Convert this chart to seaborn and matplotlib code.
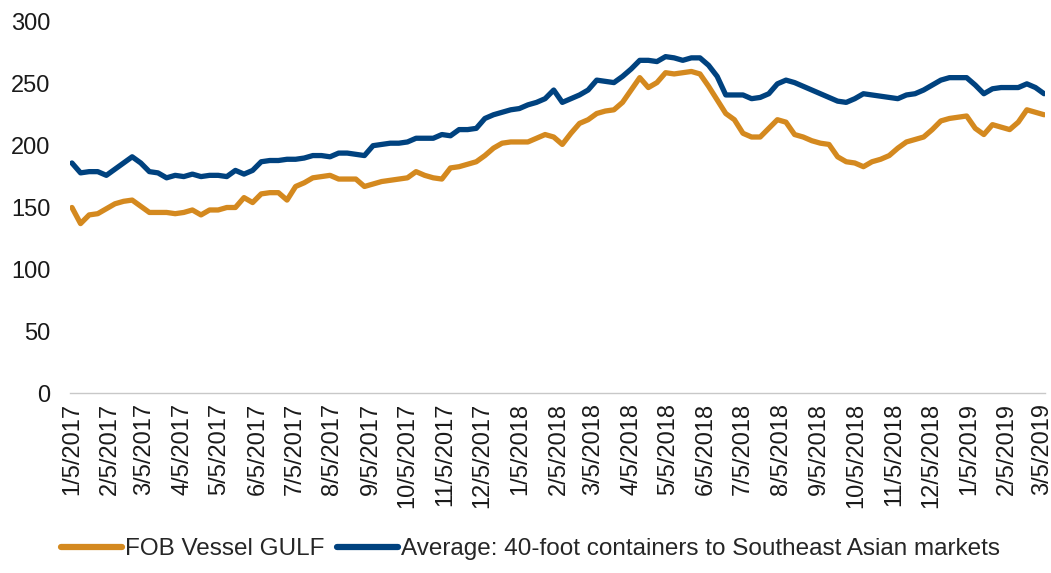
import matplotlib
matplotlib.use("Agg")
import matplotlib.pyplot as plt
import matplotlib.dates as mdates
import seaborn as sns
import pandas as pd

# weekly observations, 1/5/2017 .. 3/7/2019
dates = pd.date_range("2017-01-05", periods=114, freq="7D")

fob_gulf = [
    150, 137, 144, 145, 149, 153, 155, 156, 151, 146,
    146, 146, 145, 146, 148, 144, 148, 148, 150, 150,
    158, 154, 161, 162, 162, 156, 167, 170, 174, 175,
    176, 173, 173, 173, 167, 169, 171, 172, 173, 174,
    179, 176, 174, 173, 182, 183, 185, 187, 192, 198,
    202, 203, 203, 203, 206, 209, 207, 201, 210, 218,
    221, 226, 228, 229, 235, 245, 255, 247, 251, 259,
    258, 259, 260, 258, 248, 237, 226, 221, 210, 207,
    207, 214, 221, 219, 209, 207, 204, 202, 201, 191,
    187, 186, 183, 187, 189, 192, 198, 203, 205, 207,
    213, 220, 222, 223, 224, 214, 209, 217, 215, 213,
    219, 229, 227, 225,
]

containers_sea = [
    186, 178, 179, 179, 176, 181, 186, 191, 186, 179,
    178, 174, 176, 175, 177, 175, 176, 176, 175, 180,
    177, 180, 187, 188, 188, 189, 189, 190, 192, 192,
    191, 194, 194, 193, 192, 200, 201, 202, 202, 203,
    206, 206, 206, 209, 208, 213, 213, 214, 222, 225,
    227, 229, 230, 233, 235, 238, 245, 235, 238, 241,
    245, 253, 252, 251, 256, 262, 269, 269, 268, 272,
    271, 269, 271, 271, 265, 256, 241, 241, 241, 238,
    239, 242, 250, 253, 251, 248, 245, 242, 239, 236,
    235, 238, 242, 241, 240, 239, 238, 241, 242, 245,
    249, 253, 255, 255, 255, 249, 242, 246, 247, 247,
    247, 250, 247, 242,
]

series_names = [
    "FOB Vessel GULF",
    "Average: 40-foot containers to Southeast Asian markets",
]
colors = ["#D4891F", "#00427F"]

df = pd.concat([
    pd.DataFrame({"date": dates, "value": fob_gulf, "series": series_names[0]}),
    pd.DataFrame({"date": dates, "value": containers_sea, "series": series_names[1]}),
])

sns.set_style("white")
plt.rcParams["font.family"] = ["Liberation Sans", "DejaVu Sans"]

fig = plt.figure(figsize=(10.51, 5.73), dpi=100)
ax = fig.add_axes([70 / 1051, 1 - 393 / 573, 975 / 1051, 371 / 573])

sns.lineplot(data=df, x="date", y="value", hue="series", palette=colors,
             linewidth=3.8, ax=ax, legend=True)

ax.set_ylim(0, 300)
ax.set_yticks(range(0, 301, 50))
ax.set_xlim(pd.Timestamp("2017-01-03 10:00"), pd.Timestamp("2019-03-07 18:00"))
ax.xaxis.set_major_locator(mdates.MonthLocator(bymonthday=5))
ax.xaxis.set_major_formatter(
    plt.FuncFormatter(lambda v, p: (lambda d: f"{d.month}/{d.day}/{d.year}")(mdates.num2date(v)))
)
ax.tick_params(axis="x", labelrotation=90, length=0, labelsize=17, colors="#1a1a1a", pad=7)
ax.tick_params(axis="y", length=0, labelsize=17, colors="#1a1a1a", pad=14)
ax.set_xlabel("")
ax.set_ylabel("")

for s in ["top", "right", "left"]:
    ax.spines[s].set_visible(False)
ax.spines["bottom"].set_color("#C8C8C8")
ax.spines["bottom"].set_linewidth(1)

handles, labels = ax.get_legend_handles_labels()
ax.get_legend().remove()
for h in handles:
    h.set_linewidth(4.5)
fig.legend(handles, labels, loc="center", bbox_to_anchor=(0.505, 1 - 549 / 573),
           ncol=2, frameon=False, fontsize=17.5, handlelength=2.5,
           handletextpad=0.15, columnspacing=0.5, borderaxespad=0)

fig.savefig("out.png", dpi=100)
